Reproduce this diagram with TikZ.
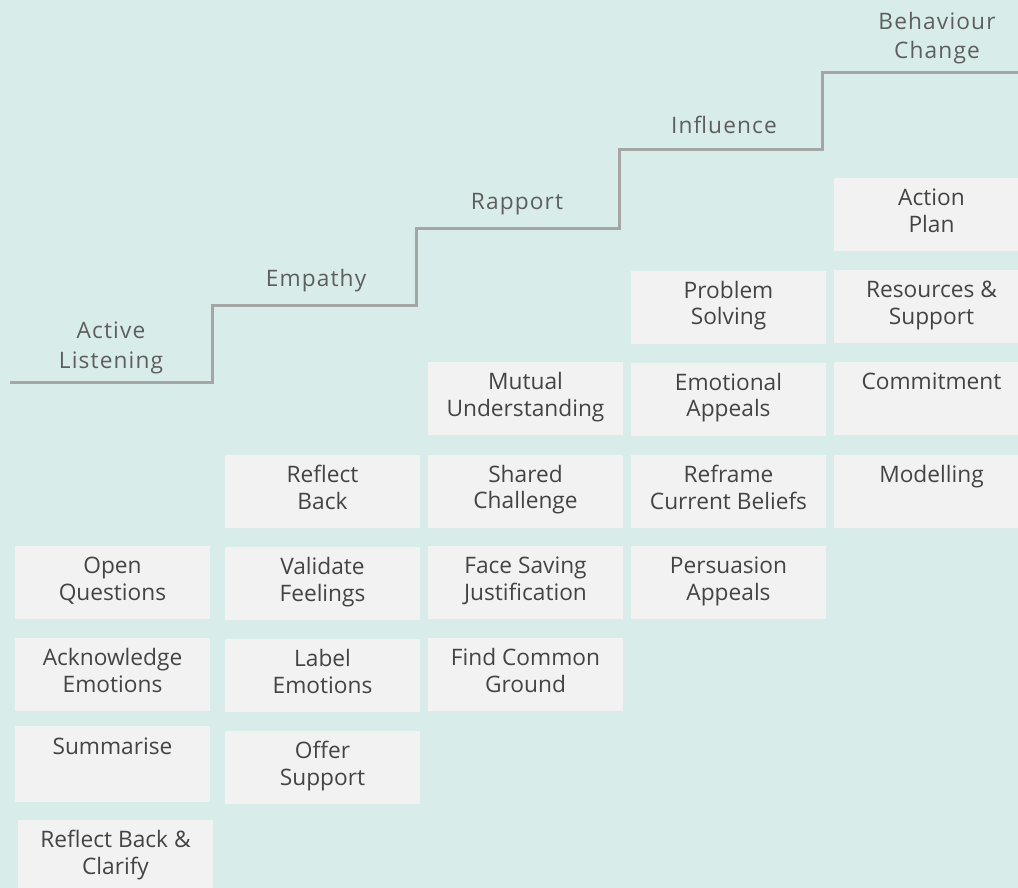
\documentclass[tikz,border=0pt]{standalone}
\usepackage{fontspec}
\setmainfont{Open Sans}
\newfontfamily\stagefamily[LetterSpace=5.0]{Open Sans}
\usepackage{xcolor}
\usepackage{tikz}
\usetikzlibrary{positioning}

\definecolor{bgteal}{HTML}{D8EDEA}
\definecolor{boxfill}{HTML}{F2F2F2}
\definecolor{boxtext}{HTML}{444444}
\definecolor{stagetext}{HTML}{5E5E5E}
\definecolor{stairgray}{HTML}{A5A5A5}

\newcommand{\skillfont}{\fontsize{22.7pt}{26.7pt}\selectfont}
\newcommand{\stagefont}{\stagefamily\fontsize{22.7pt}{29.5pt}\selectfont}

\begin{document}
\begin{tikzpicture}[
    x=1pt, y=-1pt,
    skill/.style={rectangle, fill=boxfill, inner sep=0pt,
                  minimum width=195pt, minimum height=73pt,
                  align=center, text=boxtext, font=\skillfont,
                  execute at begin node=\strut, execute at end node=\strut},
    stage/.style={align=center, inner sep=0pt, text=stagetext, font=\stagefont},
    stairs/.style={line width=3pt, draw=stairgray}
]

% background
\fill[bgteal] (0,0) rectangle (1018,888);
\useasboundingbox (0,0) rectangle (1018,888);

% Staircase
\draw[stairs] (10,382) -- (212,382) -- (212,305) -- (416,305) -- (416,228)
    -- (619,228) -- (619,150) -- (822,150) -- (822,73) -- (1018,73);

% Stage labels
\node[stage] (listening) at (111,348) {Active\\Listening};
\node[stage] (empathy) at (316,281) {Empathy};
\node[stage] (rapport) at (517,204) {Rapport};
\node[stage] (influence) at (724,125) {Influence};
\node[stage] (change) at (937,38) {Behaviour\\Change};

% Active Listening skills
\node[skill] (openq) at (112.5,582.5) {Open\\Questions};
\node[skill] (acknow) at (112.5,674.5) {Acknowledge\\Emotions};
\node[skill, minimum height=76pt] (summ) at (112.5,764) {Summarise\\};
\node[skill] (clarify) at (115.5,856.5) {Reflect Back \&\\Clarify};

% Empathy skills
\node[skill] (reflect) at (322.5,491.5) {Reflect\\Back};
\node[skill] (validate) at (322.5,583.5) {Validate\\Feelings};
\node[skill] (label) at (322.5,675.5) {Label\\Emotions};
\node[skill] (offer) at (322.5,767.5) {Offer\\Support};

% Rapport skills
\node[skill] (mutual) at (525.5,398.5) {Mutual\\Understanding};
\node[skill] (shared) at (525.5,491) {Shared\\Challenge};
\node[skill] (face) at (525.5,582.5) {Face Saving\\Justification};
\node[skill] (common) at (525.5,674.5) {Find Common\\Ground};

% Influence skills
\node[skill] (problem) at (728.5,307) {Problem\\Solving};
\node[skill] (emotional) at (728.5,399) {Emotional\\Appeals};
\node[skill] (reframe) at (728.5,491.5) {Reframe\\Current Beliefs};
\node[skill] (persuade) at (728.5,582.5) {Persuasion\\Appeals};

% Behaviour Change skills
\node[skill] (action) at (931.5,214.5) {Action\\Plan};
\node[skill] (resources) at (931.5,306.5) {Resources \&\\Support};
\node[skill] (commit) at (931.5,398.5) {Commitment\\};
\node[skill] (model) at (931.5,491) {Modelling\\};

\end{tikzpicture}
\end{document}
